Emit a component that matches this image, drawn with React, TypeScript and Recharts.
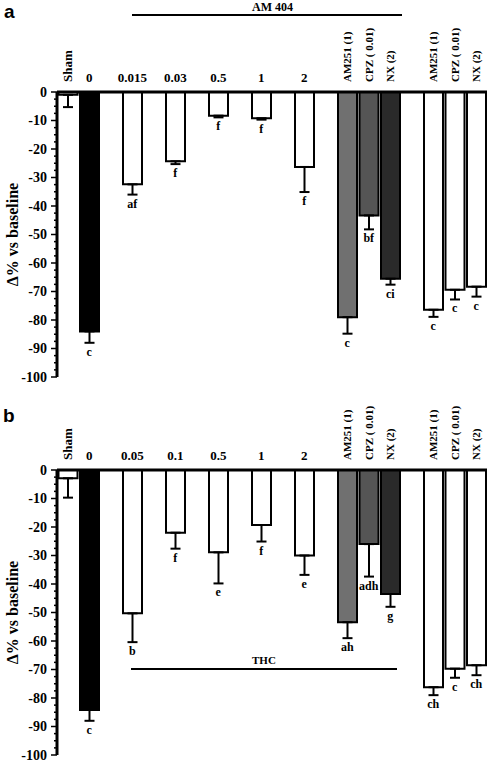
import React from "react";
import { ComposedChart, Bar, Cell, ErrorBar, Line, LabelList, XAxis, YAxis, Label } from "recharts";

// bar slots, left to right; "" = empty gap slot
const labelsA = ["Sham", "0", "", "0.015", "", "0.03", "", "0.5", "", "1", "", "2", "", "AM251 (1)", "CPZ ( 0.01)", "NX (2)", "", "AM251 (1)", "CPZ ( 0.01)", "NX (2)"];
const labelsB = ["Sham", "0", "", "0.05", "", "0.1", "", "0.5", "", "1", "", "2", "", "AM251 (1)", "CPZ ( 0.01)", "NX (2)", "", "AM251 (1)", "CPZ ( 0.01)", "NX (2)"];

// panel a (AM 404)
const meanA = [-1, -84, null, -32.4, null, -24.3, null, -8.3, null, -9.2, null, -26.3, null, -79, -43.3, -65.5, null, -76.4, -69.4, -68.3];
const semA = [4.3, 4, null, 3.6, null, 1, null, 0.6, null, 0.5, null, 8.8, null, 5.8, 4.9, 2.1, null, 2.5, 3.4, 3.5];
const sigA = ["", "c", "", "af", "", "f", "", "f", "", "f", "", "f", "", "c", "bf", "ci", "", "c", "c", "c"];

// panel b (THC)
const meanB = [-2.9, -84.2, null, -50.3, null, -22, null, -28.9, null, -19.3, null, -30, null, -53.4, -26, -43.5, null, -76.2, -69.7, -68.5];
const semB = [6.8, 3.8, null, 10.1, null, 5.6, null, 10.9, null, 5.8, null, 6.8, null, 5.6, 11.4, 4.5, null, 2.8, 3.2, 3.5];
const sigB = ["", "c", "", "b", "", "f", "", "e", "", "f", "", "e", "", "ah", "adh", "g", "", "ch", "c", "ch"];

const fills = ["#fff", "#000", "#fff", "#fff", "#fff", "#fff", "#fff", "#fff", "#fff", "#fff", "#fff", "#fff", "#fff", "#707070", "#555555", "#2a2a2a", "#fff", "#fff", "#fff", "#fff"];

const yMajor = [0, -10, -20, -30, -40, -50, -60, -70, -80, -90, -100];
const yTicks = [0, -2.5, -5, -7.5, -10, -12.5, -15, -17.5, -20, -22.5, -25, -27.5, -30, -32.5, -35, -37.5, -40, -42.5, -45, -47.5, -50, -52.5, -55, -57.5, -60, -62.5, -65, -67.5, -70, -72.5, -75, -77.5, -80, -82.5, -85, -87.5, -90, -92.5, -95, -97.5, -100];

const SERIF = "'Liberation Serif', 'Times New Roman', serif";
const SANS = "'Liberation Sans', Arial, sans-serif";

const W = 489;
const H = 390;
const PLOT_H = 285;

function buildRows(means: (number | null)[], sems: (number | null)[], sigs: string[]) {
  return means.map((m, i) => ({
    key: `s${i}`,
    mean: m,
    err: sems[i] == null ? undefined : [sems[i], 0],
    lo: m == null ? null : m - (sems[i] ?? 0),
    sig: sigs[i] || undefined,
  }));
}

function CatTick(props: any) {
  const { x, y, payload, labels } = props;
  const text = labels[Number(String(payload.value).slice(1))];
  if (!text) return <g />;
  const rotated = isNaN(Number(text));
  if (rotated) {
    return (
      <text x={x} y={y} dy="0.35em" transform={`rotate(-90, ${x}, ${y})`} textAnchor="start"
        fontFamily={SERIF} fontWeight="bold" fontSize={text === "Sham" ? 13 : 11} fill="#000">
        {text}
      </text>
    );
  }
  return (
    <text x={x} y={y} textAnchor="middle" fontFamily={SERIF} fontWeight="bold" fontSize={13} fill="#000">
      {text}
    </text>
  );
}

function YTick(props: any) {
  const { x, y, payload } = props;
  const v = payload.value;
  if (!yMajor.includes(v)) return <g />;
  return (
    <g>
      <line x1={x - 3} x2={x} y1={y} y2={y} stroke="#000" strokeWidth={1.5} />
      <text x={x - 7} y={y} dy="0.35em" textAnchor="end" fontFamily={SERIF} fontWeight="bold" fontSize={14} fill="#000">
        {v}
      </text>
    </g>
  );
}

function Panel({ rows, labels, top }: { rows: any[]; labels: string[]; top: number }) {
  return (
    <ComposedChart width={W} height={H} data={rows} barCategoryGap={1.5}
      margin={{ top, right: 2, bottom: H - top - 60 - PLOT_H, left: 0 }}>
      <XAxis dataKey="key" orientation="top" height={60} interval={0} tickLine={false} tickSize={0} tickMargin={10}
        axisLine={{ stroke: "#000", strokeWidth: 3 }}
        tick={(p: any) => <CatTick {...p} labels={labels} />} />
      <YAxis type="number" domain={[-100, 0]} ticks={yTicks} interval={0} width={57} tickSize={3} tickMargin={0}
        axisLine={{ stroke: "#000", strokeWidth: 3 }} tickLine={{ stroke: "#000", strokeWidth: 1.5 }}
        tick={(p: any) => <YTick {...p} />}>
        <Label content={(p: any) => {
          const vb = p.viewBox;
          const cx = vb.x + 12;
          const cy = vb.y + vb.height / 2;
          return (
            <text x={cx} y={cy} dy="0.35em" transform={`rotate(-90, ${cx}, ${cy})`} textAnchor="middle"
              fontFamily={SERIF} fontWeight="bold" fontSize={16} fill="#000">
              Δ% vs baseline
            </text>
          );
        }} />
      </YAxis>
      <Bar dataKey="mean" stroke="#000" strokeWidth={2} isAnimationActive={false}>
        {rows.map((r, i) => <Cell key={r.key} fill={fills[i]} />)}
        <ErrorBar dataKey="err" direction="y" width={5} stroke="#000" strokeWidth={2} />
      </Bar>
      <Line dataKey="lo" stroke="none" dot={false} activeDot={false} isAnimationActive={false}>
        <LabelList dataKey="sig" content={(p: any) => p.value ? (
          <text x={p.x} y={p.y + 13} textAnchor="middle" fontFamily={SERIF} fontWeight="bold" fontSize={12} fill="#000">
            {p.value}
          </text>
        ) : null} />
      </Line>
    </ComposedChart>
  );
}

export default function App() {
  const rowsA = buildRows(meanA, semA, sigA);
  const rowsB = buildRows(meanB, semB, sigB);
  return (
    <div style={{ position: "absolute", left: 0, top: 0, width: 489, height: 762, background: "#fff", overflow: "hidden" }}>
      <div style={{ position: "absolute", left: 0, top: 0 }}>
        <Panel rows={rowsA} labels={labelsA} top={32} />
      </div>
      <div style={{ position: "absolute", left: 0, top: 372 }}>
        <Panel rows={rowsB} labels={labelsB} top={38} />
      </div>
      <svg width={489} height={762} style={{ position: "absolute", left: 0, top: 0, pointerEvents: "none" }}>
        <text x={4} y={18} fontFamily={SANS} fontWeight="bold" fontSize={19} fill="#000">a</text>
        <text x={3} y={422} fontFamily={SANS} fontWeight="bold" fontSize={19} fill="#000">b</text>
        <line x1={132} x2={402} y1={15} y2={15} stroke="#000" strokeWidth={2} />
        <text x={252} y={11} fontFamily={SERIF} fontWeight="bold" fontSize={12} fill="#000">AM 404</text>
        <line x1={131} x2={397} y1={669} y2={669} stroke="#000" strokeWidth={2} />
        <text x={252} y={664} fontFamily={SERIF} fontWeight="bold" fontSize={11} fill="#000">THC</text>
      </svg>
    </div>
  );
}
